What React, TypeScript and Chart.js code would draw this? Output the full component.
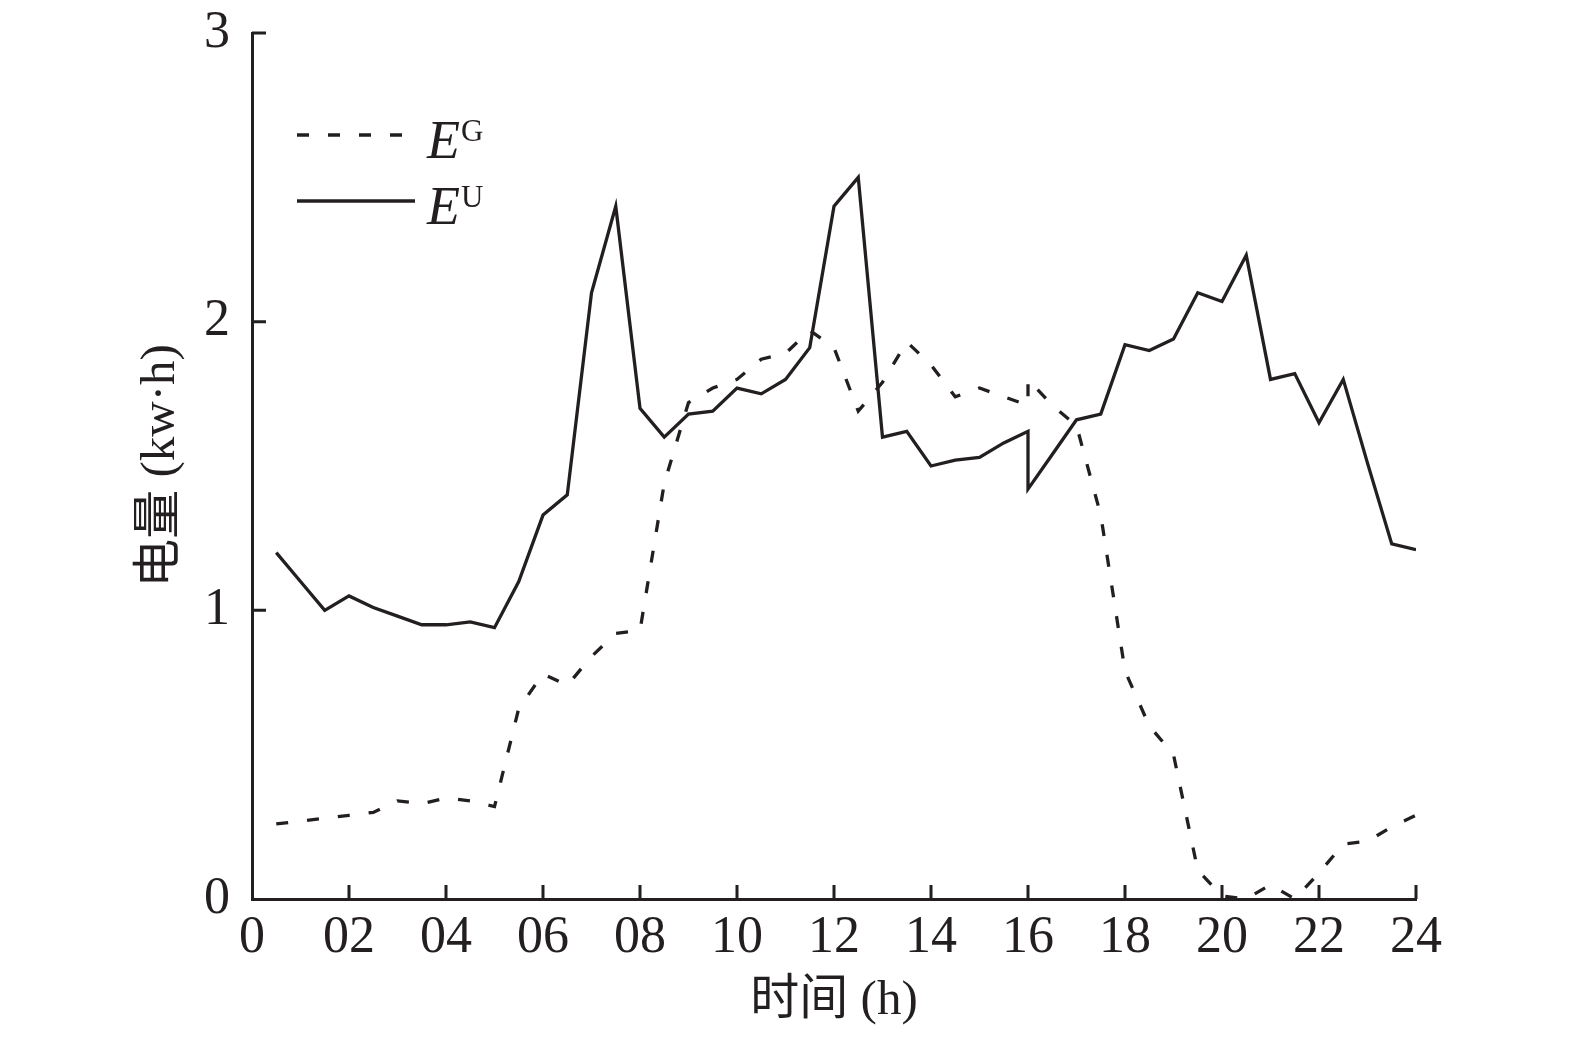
import React, { useEffect, useRef } from 'react';
import { Chart, registerables } from 'chart.js';

Chart.register(...registerables);

// half-hour samples; the profile is spliced at 16:00, so that hour appears twice
const hours = [
  0.5, 1, 1.5, 2, 2.5, 3, 3.5, 4, 4.5, 5, 5.5, 6, 6.5, 7, 7.5, 8,
  8.5, 9, 9.5, 10, 10.5, 11, 11.5, 12, 12.5, 13, 13.5, 14, 14.5, 15, 15.5, 16,
  16, 16.5, 17, 17.5, 18, 18.5, 19, 19.5, 20, 20.5, 21, 21.5, 22, 22.5, 23, 23.5, 24,
];

// E^G
const gridEnergy = [
  0.26, 0.27, 0.28, 0.29, 0.3, 0.34, 0.33, 0.35, 0.34, 0.32, 0.66, 0.78, 0.74, 0.84, 0.92, 0.93,
  1.44, 1.72, 1.77, 1.8, 1.87, 1.89, 1.97, 1.91, 1.69, 1.79, 1.93, 1.85, 1.74, 1.77, 1.74, 1.71,
  1.8, 1.71, 1.64, 1.33, 0.79, 0.6, 0.5, 0.1, 0.01, 0.0, 0.05, 0.0, 0.09, 0.19, 0.2, 0.25, 0.29,
];

// E^U
const userEnergy = [
  1.2, 1.1, 1.0, 1.05, 1.01, 0.98, 0.95, 0.95, 0.96, 0.94, 1.1, 1.33, 1.4, 2.1, 2.4, 1.7,
  1.6, 1.68, 1.69, 1.77, 1.75, 1.8, 1.91, 2.4, 2.5, 1.6, 1.62, 1.5, 1.52, 1.53, 1.58, 1.62,
  1.42, 1.54, 1.66, 1.68, 1.92, 1.9, 1.94, 2.1, 2.07, 2.23, 1.8, 1.82, 1.65, 1.8, 1.51, 1.23, 1.21,
];

const xTickLabels = ['0', '02', '04', '06', '08', '10', '12', '14', '16', '18', '20', '22', '24'];
const yTickLabels = ['0', '1', '2', '3'];

const INK = '#231f20';
const SERIF = '"Liberation Serif", "Times New Roman", "Noto Sans CJK SC", serif';

// inward tick marks + in-plot legend with superscripts
const decorPlugin = {
  id: 'decor',
  afterDatasetsDraw(chart: any) {
    const { ctx, chartArea, scales } = chart;
    ctx.save();
    ctx.strokeStyle = INK;
    ctx.lineWidth = 3;
    ctx.setLineDash([]);
    ctx.beginPath();
    scales.x.ticks.forEach((t: any) => {
      if (t.value === 0) return;
      const px = scales.x.getPixelForValue(t.value);
      ctx.moveTo(px, chartArea.bottom);
      ctx.lineTo(px, chartArea.bottom - 14);
    });
    scales.y.ticks.forEach((t: any) => {
      if (t.value === 0) return;
      const py = scales.y.getPixelForValue(t.value);
      ctx.moveTo(chartArea.left, py);
      ctx.lineTo(chartArea.left + 14, py);
    });
    ctx.stroke();

    const items = [
      { sup: 'G', dash: [12, 19], y: 135 },
      { sup: 'U', dash: [], y: 201 },
    ];
    items.forEach((it) => {
      ctx.beginPath();
      ctx.lineWidth = 3.3;
      ctx.setLineDash(it.dash);
      ctx.moveTo(297, it.y);
      ctx.lineTo(415, it.y);
      ctx.stroke();
      ctx.setLineDash([]);
      ctx.fillStyle = INK;
      ctx.textBaseline = 'alphabetic';
      ctx.textAlign = 'left';
      ctx.font = `italic 54px ${SERIF}`;
      ctx.fillText('E', 427, it.y + 23);
      ctx.font = `31px ${SERIF}`;
      ctx.fillText(it.sup, 461, it.y + 6);
    });
    ctx.restore();
  },
};

const App: React.FC = () => {
  const canvasRef = useRef<HTMLCanvasElement>(null);
  const chartRef = useRef<Chart | null>(null);

  useEffect(() => {
    if (!canvasRef.current) return;
    const ctx = canvasRef.current.getContext('2d');
    if (!ctx) return;

    chartRef.current = new Chart(ctx, {
      type: 'line',
      data: {
        datasets: [
          {
            label: 'EG',
            data: hours.map((h, i) => ({ x: h, y: gridEnergy[i] })),
            borderColor: INK,
            borderWidth: 3.3,
            borderDash: [12, 19],
            pointRadius: 0,
            tension: 0,
            fill: false,
          },
          {
            label: 'EU',
            data: hours.map((h, i) => ({ x: h, y: userEnergy[i] })),
            borderColor: INK,
            borderWidth: 3.3,
            pointRadius: 0,
            tension: 0,
            fill: false,
          },
        ],
      },
      options: {
        animation: false,
        responsive: true,
        maintainAspectRatio: false,
        layout: { padding: { left: 0, right: 159, top: 33, bottom: 0 } },
        plugins: {
          legend: { display: false },
          tooltip: { enabled: false },
        },
        scales: {
          x: {
            type: 'linear',
            min: 0,
            max: 24,
            grid: { display: false, drawTicks: false },
            border: { display: true, color: INK, width: 3 },
            ticks: {
              stepSize: 2,
              padding: 8,
              color: INK,
              font: { family: SERIF, size: 52 },
              maxRotation: 0,
              callback: (v: any) => xTickLabels[Math.round(Number(v) / 2)],
            },
            title: {
              display: true,
              text: '时间 (h)',
              color: INK,
              font: { family: SERIF, size: 49 },
              padding: { top: 0, bottom: 6 },
            },
            afterFit: (axis: any) => {
              axis.height = 138;
              axis.paddingLeft = 0;
              axis.paddingRight = 0;
            },
          },
          y: {
            min: 0,
            max: 3,
            grid: { display: false, drawTicks: false },
            border: { display: true, color: INK, width: 3 },
            ticks: {
              stepSize: 1,
              padding: 22,
              color: INK,
              font: { family: SERIF, size: 52 },
              callback: (v: any) => yTickLabels[Math.round(Number(v))],
            },
            title: {
              display: true,
              text: '电量 (kw·h)',
              color: INK,
              font: { family: SERIF, size: 49 },
              padding: { top: 132, bottom: 0 },
            },
            afterFit: (axis: any) => {
              axis.width = 252;
              axis.paddingTop = 0;
              axis.paddingBottom = 0;
            },
          },
        },
      },
      plugins: [decorPlugin],
    });

    return () => {
      chartRef.current?.destroy();
      chartRef.current = null;
    };
  }, []);

  return (
    <div style={{ position: 'absolute', left: 0, top: 0, width: 1575, height: 1037, background: '#fff' }}>
      <canvas ref={canvasRef}></canvas>
    </div>
  );
};

export default App;
